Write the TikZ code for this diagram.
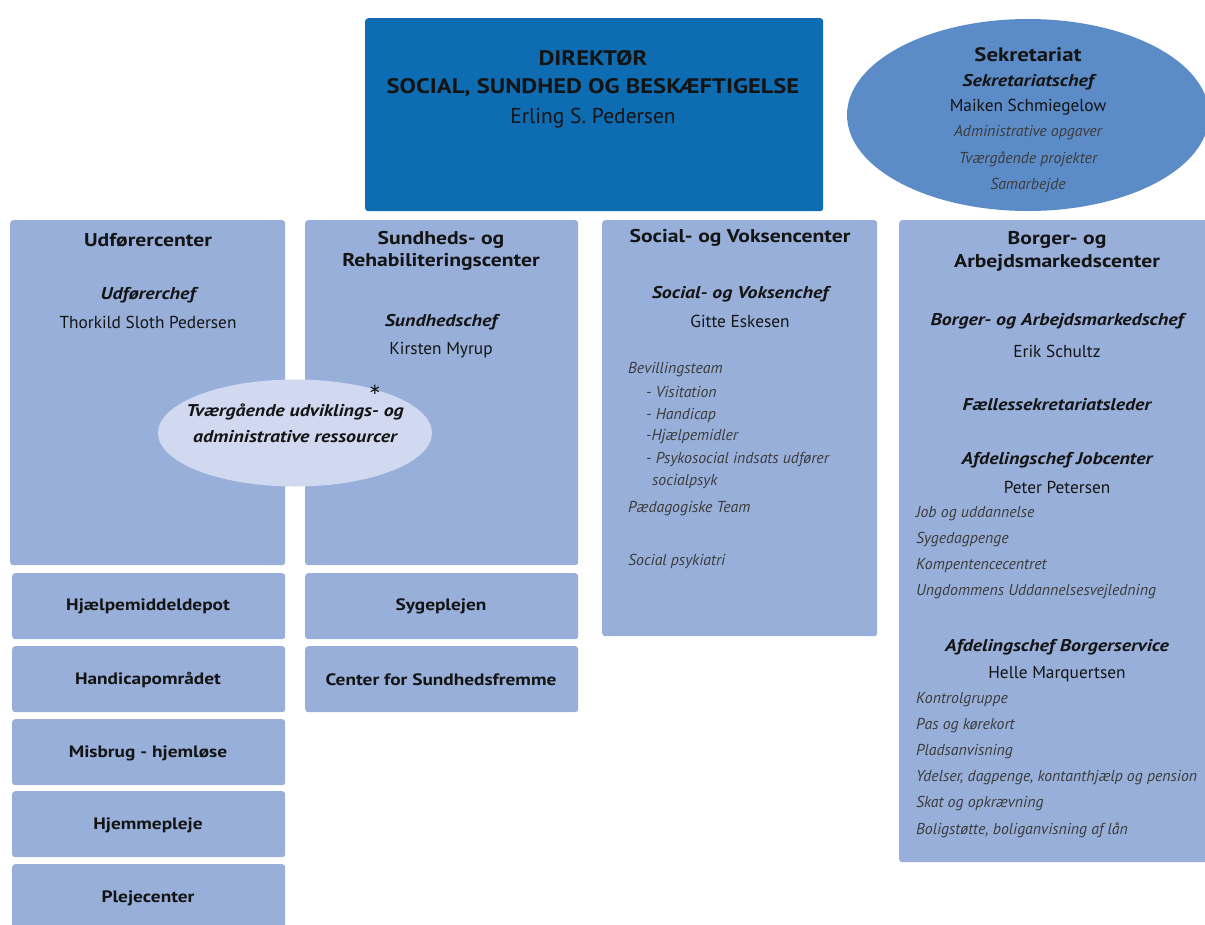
\documentclass[tikz,border=0pt]{standalone}
\usepackage{fontspec}
\setmainfont{PT Sans}[BoldFeatures={FakeStretch=1.17},BoldItalicFeatures={FakeStretch=1.17}]
\newfontfamily\starfont{DejaVu Sans}
\usetikzlibrary{shapes.geometric}
\definecolor{dirblue}{RGB}{14,108,178}
\definecolor{secblue}{RGB}{92,140,200}
\definecolor{colblue}{RGB}{152,175,218}
\definecolor{ellblue}{RGB}{208,217,240}
\definecolor{txt}{RGB}{20,20,20}
\definecolor{itx}{RGB}{60,60,60}
\tikzset{
  box/.style={fill=colblue, draw=none, rounded corners=3pt, anchor=north west, inner sep=0pt},
  hd/.style={font=\fontsize{18.5}{21}\selectfont\bfseries, text=txt, inner sep=0pt},
  chef/.style={font=\fontsize{17}{19}\selectfont\bfseries\itshape, text=txt, inner sep=0pt},
  nm/.style={font=\fontsize{17.3}{19}\selectfont, text=txt, inner sep=0pt},
  it/.style={font=\fontsize{15.8}{18}\selectfont\itshape, text=itx, inner sep=0pt, anchor=west},
  sm/.style={font=\fontsize{16.5}{19}\selectfont\bfseries, text=txt, inner sep=0pt},
  dir/.style={font=\fontsize{21}{24}\selectfont\bfseries, text=txt, inner sep=0pt},
}
\begin{document}
\begin{tikzpicture}[x=1pt,y=-1pt]
\useasboundingbox (0,0) rectangle (1205,924);
% director
\node[box, fill=dirblue, minimum width=458, minimum height=193] (dirbox) at (365,18) {};
\node[dir] (d1) at (593,58) {DIREKTØR};
\node[dir] (d2) at (593,88) {SOCIAL, SUNDHED OG BESKÆFTIGELSE};
\node[dir, font=\fontsize{21.5}{24}\selectfont] (d3) at (593,118) {Erling S. Pedersen};
% sekretariat
\node[ellipse, fill=secblue, minimum width=362, minimum height=192, inner sep=0pt] (sek) at (1028,115) {};
\node[hd, font=\fontsize{19.5}{22}\selectfont\bfseries] (s1) at (1028,55) {Sekretariat};
\node[chef] (s2) at (1028,82) {Sekretariatschef};
\node[nm] (s3) at (1028,107) {Maiken Schmiegelow};
\node[it, anchor=center] (s4) at (1028,133) {Administrative opgaver};
\node[it, anchor=center] (s5) at (1028,159) {Tværgående projekter};
\node[it, anchor=center] (s6) at (1028,186) {Samarbejde};
% column 1
\node[box, minimum width=275, minimum height=345] (c1) at (10,220) {};
\node[box, minimum width=273, minimum height=66] (b11) at (12,573) {};
\node[box, minimum width=273, minimum height=66] (b12) at (12,646) {};
\node[box, minimum width=273, minimum height=66] (b13) at (12,719) {};
\node[box, minimum width=273, minimum height=66] (b14) at (12,791) {};
\node[box, minimum width=273, minimum height=80] (b15) at (12,864) {};
\node[hd] (c1h) at (148,240) {Udførercenter};
\node[chef] (c1c) at (148,295) {Udførerchef};
\node[nm] (c1n) at (148,322) {Thorkild Sloth Pedersen};
\node[sm] (t11) at (148,606) {Hjælpemiddeldepot};
\node[sm] (t12) at (148,680) {Handicapområdet};
\node[sm] (t13) at (148,753) {Misbrug - hjemløse};
\node[sm] (t14) at (148,825) {Hjemmepleje};
\node[sm] (t15) at (148,898) {Plejecenter};
% column 2
\node[box, minimum width=273, minimum height=345] (c2) at (305,220) {};
\node[box, minimum width=273, minimum height=66] (b21) at (305,573) {};
\node[box, minimum width=273, minimum height=66] (b22) at (305,646) {};
\node[hd] (c2h1) at (441,240) {Sundheds- og};
\node[hd] (c2h2) at (441,262) {Rehabiliteringscenter};
\node[chef] (c2c) at (441,322) {Sundhedschef};
\node[nm] (c2n) at (441,350) {Kirsten Myrup};
\node[sm] (t21) at (441,606) {Sygeplejen};
\node[sm] (t22) at (441,680) {Center for Sundhedsfremme};
% shared ellipse
\node[ellipse, fill=ellblue, minimum width=274, minimum height=107, inner sep=0pt] (tvaer) at (295,433) {};
\node[font=\starfont\fontsize{15}{15}\selectfont, text=txt, inner sep=0pt] (star) at (375,390) {∗};
\node[chef] (tv1) at (295,412) {Tværgående udviklings- og};
\node[chef] (tv2) at (295,437) {administrative ressourcer};
% column 3
\node[box, minimum width=275, minimum height=416] (c3) at (602,220) {};
\node[hd] (c3h) at (740,238) {Social- og Voksencenter};
\node[chef] (c3c) at (740,294) {Social- og Voksenchef};
\node[nm] (c3n) at (740,321) {Gitte Eskesen};
\node[it] (c31) at (628,370) {Bevillingsteam};
\node[it] (c32) at (646,392) {- Visitation};
\node[it] (c33) at (646,415) {- Handicap};
\node[it] (c34) at (646,437) {-Hjælpemidler};
\node[it] (c35) at (646,460) {- Psykosocial indsats udfører};
\node[it] (c36) at (652,482) {socialpsyk};
\node[it] (c37) at (628,509) {Pædagogiske Team};
\node[it] (c38) at (628,561) {Social psykiatri};
% column 4
\node[box, minimum width=320, minimum height=642] (c4) at (899,220) {};
\node[hd] (c4h1) at (1057,240) {Borger- og};
\node[hd] (c4h2) at (1057,263) {Arbejdsmarkedscenter};
\node[chef] (c4c) at (1057,321) {Borger- og Arbejdsmarkedschef};
\node[nm] (c4n) at (1057,351) {Erik Schultz};
\node[chef] (c4f) at (1057,405) {Fællessekretariatsleder};
\node[chef] (c4j) at (1057,460) {Afdelingschef Jobcenter};
\node[nm] (c4jn) at (1057,487) {Peter Petersen};
\node[it] (c41) at (916,514) {Job og uddannelse};
\node[it] (c42) at (916,540) {Sygedagpenge};
\node[it] (c43) at (916,566) {Kompentencecentret};
\node[it] (c44) at (916,592) {Ungdommens Uddannelsesvejledning};
\node[chef] (c4b) at (1057,647) {Afdelingschef Borgerservice};
\node[nm] (c4bn) at (1057,674) {Helle Marquertsen};
\node[it] (c45) at (916,700) {Kontrolgruppe};
\node[it] (c46) at (916,726) {Pas og kørekort};
\node[it] (c47) at (916,752) {Pladsanvisning};
\node[it] (c48) at (916,778) {Ydelser, dagpenge, kontanthjælp og pension};
\node[it] (c49) at (916,804) {Skat og opkrævning};
\node[it] (c410) at (916,830) {Boligstøtte, boliganvisning af lån};
\end{tikzpicture}
\end{document}
